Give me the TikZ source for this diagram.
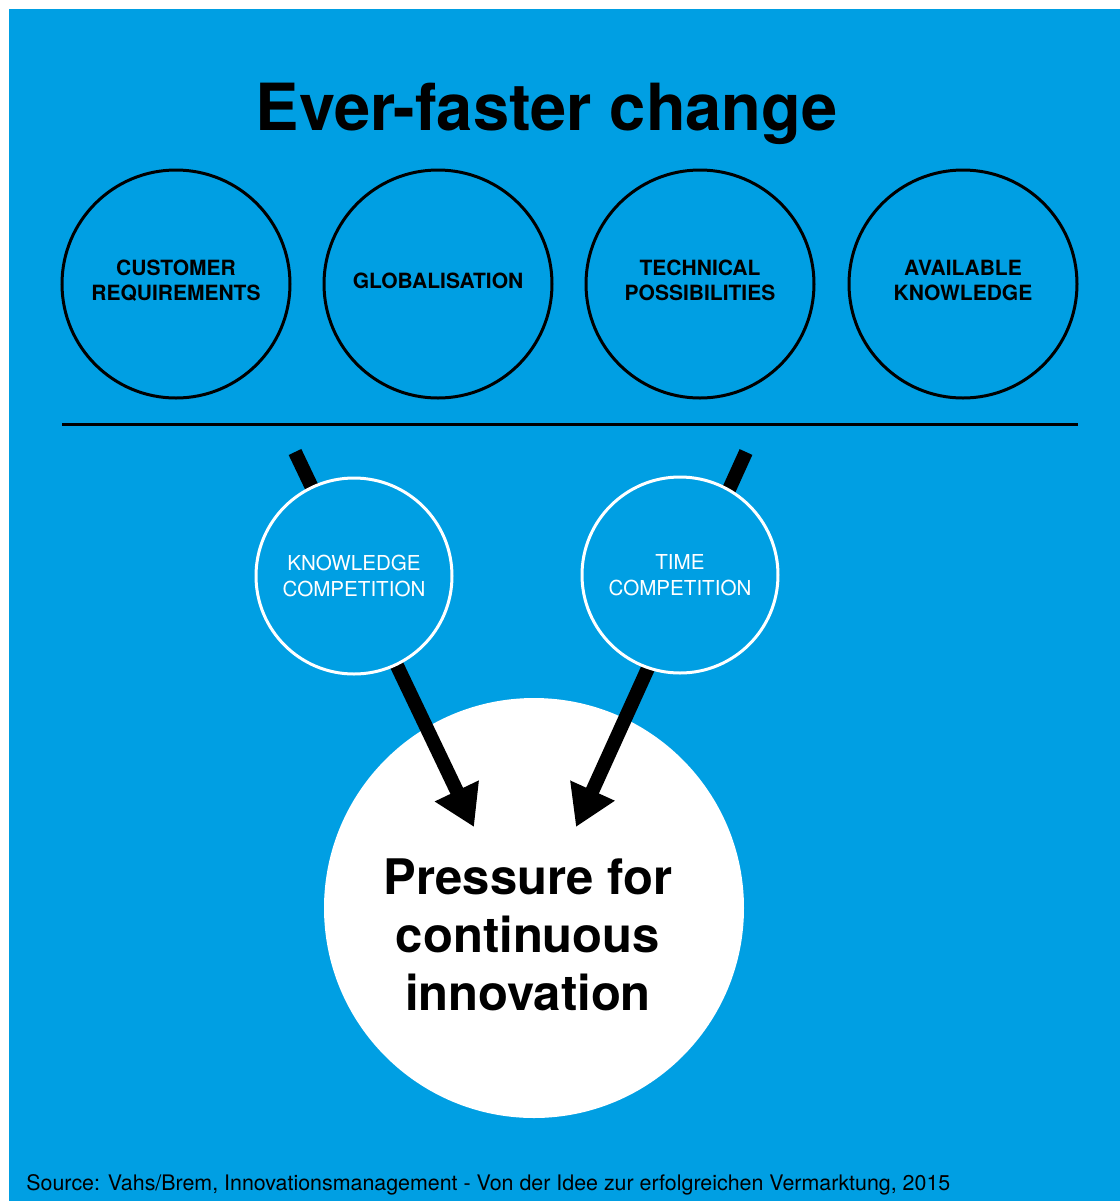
\documentclass[tikz,border=0pt]{standalone}
\usepackage{fontspec}
\setmainfont{TeX Gyre Heros}
\usetikzlibrary{arrows.meta}
\definecolor{skyblue}{RGB}{0,159,227}
\tikzset{
  drivercirc/.style={circle,draw=black,line width=1.5pt,minimum size=114pt,inner sep=0pt,text depth=3.5pt,align=center,font=\bfseries\fontsize{10.5}{12.5}\selectfont},
  compcirc/.style={circle,draw=white,fill=skyblue,line width=1.5pt,minimum size=98pt,inner sep=0pt,align=center,text=white,font=\fontsize{10.3}{12.8}\selectfont},
  pushline/.style={line width=7pt,-{Triangle[length=20pt,width=23pt]}}
}
\begin{document}
\begin{tikzpicture}[x=0.5pt,y=-0.5pt]
\useasboundingbox (0,0) rectangle (1120,1201);
\fill[skyblue] (9,9) rectangle (1120,1201);
\node[anchor=base,font=\bfseries\fontsize{32.5}{38}\selectfont] (title) at (547,130) {Ever-faster change};
% four drivers of change
\node[drivercirc] (cust) at (176,284) {CUSTOMER\\REQUIREMENTS};
\node[drivercirc] (glob) at (438,284) {GLOBALISATION};
\node[drivercirc] (tech) at (700,284) {TECHNICAL\\POSSIBILITIES};
\node[drivercirc] (know) at (963,284) {AVAILABLE\\KNOWLEDGE};
\draw[line width=1.5pt] (62,424) -- (1078,424);
% result
\node[circle,fill=white,minimum size=210pt,inner sep=0pt] (pres) at (534,908) {};
\node[align=center,inner sep=0pt,font=\bfseries\fontsize{24.5}{29}\selectfont] (prestext) at (528,935) {Pressure for\\continuous\\innovation};
\coordinate (kstart) at (295,452);
\coordinate (kend) at (474,827);
\coordinate (tstart) at (746,452);
\coordinate (tend) at (576,827);
\draw[pushline] (kstart) -- (kend);
\draw[pushline] (tstart) -- (tend);
\node[compcirc] (kcomp) at (354,576) {KNOWLEDGE\\COMPETITION};
\node[compcirc,text depth=-1pt] (tcomp) at (680,575) {TIME\\COMPETITION};
\node[anchor=base west,inner sep=0pt,font=\fontsize{10.7}{13}\selectfont] (src) at (26,1190) {Source: Vahs/Brem, Innovationsmanagement - Von der Idee zur erfolgreichen Vermarktung, 2015};
\end{tikzpicture}
\end{document}
